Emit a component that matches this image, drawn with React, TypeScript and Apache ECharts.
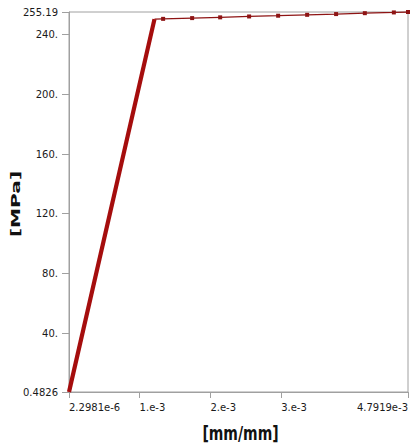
import React, { useEffect, useRef } from "react";
import * as echarts from "echarts";

// Elastic segment (strain [mm/mm], stress [MPa])
const elasticStrain = [2.2981e-6, 1.21e-3];
const elasticStress = [0.4826, 250.4];

// Plastic plateau points
const plasticStrain = [1.21e-3, 1.332e-3, 1.742e-3, 2.138e-3, 2.547e-3, 2.957e-3, 3.367e-3, 3.776e-3, 4.182e-3, 4.592e-3, 4.7919e-3];
const plasticStress = [250.4, 250.6, 251.1, 251.6, 252.2, 252.7, 253.3, 253.8, 254.4, 254.9, 255.19];

// Tick values and labels
const xTickValues = [2.2981e-6, 1e-3, 2e-3, 3e-3, 4.7919e-3];
const xTickLabels = ["2.2981e-6", "1.e-3", "2.e-3", "3.e-3", "4.7919e-3"];
const yTickValues = [0.4826, 40, 80, 120, 160, 200, 240, 255.19];
const yTickLabels = ["0.4826", "40.", "80.", "120.", "160.", "200.", "240.", "255.19"];

const xTitle = "[mm/mm]";
const yTitle = "[MPa]";

const GRID = { left: 69, right: 8, top: 12, bottom: 53 };

function labelFor(values: number[], labels: string[], v: number) {
  let best = 0;
  let bd = Infinity;
  values.forEach((t, i) => {
    const d = Math.abs(t - v);
    if (d < bd) {
      bd = d;
      best = i;
    }
  });
  return labels[best];
}

export default function App() {
  const ref = useRef<HTMLDivElement>(null);
  useEffect(() => {
    if (!ref.current) return;
    const chart = echarts.init(ref.current, undefined, { renderer: "svg" });
    const axisColor = "#a0a0a0";
    const labelStyle = {
      color: "#1a1a1a",
      fontFamily: "DejaVu Sans",
      fontSize: 10,
    };
    const plotCx = GRID.left + (416 - GRID.left - GRID.right) / 2;
    chart.setOption({
      animation: false,
      backgroundColor: "#ffffff",
      grid: {
        left: GRID.left,
        right: GRID.right,
        top: GRID.top,
        bottom: GRID.bottom,
        show: true,
        borderColor: axisColor,
        borderWidth: 1,
        outerBoundsMode: "none",
        containLabel: false,
      },
      xAxis: {
        type: "value",
        min: xTickValues[0],
        max: xTickValues[xTickValues.length - 1],
        axisLine: { show: true, onZero: false, lineStyle: { color: axisColor, width: 1 } },
        axisTick: { show: true, length: 6, customValues: xTickValues, lineStyle: { color: axisColor } },
        splitLine: { show: false },
        axisLabel: {
          ...labelStyle,
          margin: 10,
          align: "left",
          alignMaxLabel: "right",
          customValues: xTickValues,
          formatter: (v: number) => labelFor(xTickValues, xTickLabels, v),
        },
      },
      yAxis: {
        type: "value",
        min: yTickValues[0],
        max: yTickValues[yTickValues.length - 1],
        axisLine: { show: true, onZero: false, lineStyle: { color: axisColor, width: 1 } },
        axisTick: { show: true, length: 7, customValues: yTickValues, lineStyle: { color: axisColor } },
        splitLine: { show: false },
        axisLabel: {
          ...labelStyle,
          margin: 11,
          customValues: yTickValues,
          formatter: (v: number) => labelFor(yTickValues, yTickLabels, v),
        },
      },
      graphic: [
        {
          type: "text",
          x: plotCx + 2,
          y: 433,
          scaleY: 1.4,
          style: {
            text: xTitle,
            fontFamily: "DejaVu Sans",
            fontWeight: "bold",
            fontSize: 14,
            fill: "#111",
            align: "center",
            verticalAlign: "middle",
          },
        },
        {
          type: "text",
          x: 15,
          y: 204,
          rotation: Math.PI / 2,
          scaleX: 1.55,
          style: {
            text: yTitle,
            fontFamily: "DejaVu Sans",
            fontWeight: "bold",
            fontSize: 13,
            fill: "#111",
            align: "center",
            verticalAlign: "middle",
          },
        },
      ],
      series: [
        {
          type: "line",
          data: elasticStrain.map((x, i) => [x, elasticStress[i]]),
          symbol: "none",
          lineStyle: { color: "#a50d0d", width: 4.2 },
          z: 3,
        },
        {
          type: "line",
          data: plasticStrain.map((x, i) =>
            i === 0 ? { value: [x, plasticStress[i]], symbol: "none" } : [x, plasticStress[i]]
          ),
          symbol: "rect",
          symbolSize: 4,
          showAllSymbol: true,
          itemStyle: { color: "#8e1414" },
          lineStyle: { color: "#8e1414", width: 1.3 },
          z: 2,
        },
      ],
    });
    return () => chart.dispose();
  }, []);
  return <div ref={ref} style={{ width: 416, height: 445, position: "absolute", left: 0, top: 0 }} />;
}
